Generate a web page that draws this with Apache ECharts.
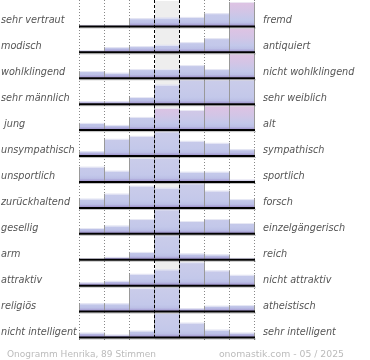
<!DOCTYPE html>
<html>
<head>
<meta charset="utf-8">
<script src="https://cdn.jsdelivr.net/npm/echarts@6/dist/echarts.min.js"></script>
<style>html,body{margin:0;padding:0;background:#fff}#c{width:370px;height:360px}</style>
</head>
<body>
<div id="c"></div>
<script>
const leftLabels = ['sehr vertraut','modisch','wohlklingend','sehr männlich',' jung','unsympathisch','unsportlich','zurückhaltend','gesellig','arm','attraktiv','religiös','nicht intelligent'];
const rightLabels = ['fremd','antiquiert','nicht wohlklingend','sehr weiblich','alt','sympathisch','sportlich','forsch','einzelgängerisch','reich','nicht attraktiv','atheistisch','sehr intelligent'];
// bar heights per row, 7 bins (row height = 26 units, bars capped at 24)
const values = [
  [1, 1, 7.7, 8.3, 9, 12.7, 24],
  [1.7, 4.7, 5.7, 7, 9.7, 13.7, 24],
  [6.7, 5, 8.7, 8.7, 12.7, 8.7, 24],
  [2.3, 2.3, 6.7, 19, 24, 24, 24],
  [6.7, 4.7, 12.7, 21.7, 19.7, 24, 24],
  [4.3, 16.7, 19.7, 24, 14.7, 12.7, 6.3],
  [14.7, 10.7, 23.5, 24, 9.7, 9.7, 1.7],
  [8.7, 13.7, 21.7, 19.7, 24, 16.7, 8.3],
  [5.3, 7.7, 14.3, 24, 12.3, 14.3, 10.3],
  [0.6, 2.3, 7.3, 24, 5.7, 4.7, 1.3],
  [2.7, 4.3, 11.3, 15.7, 23, 14.7, 10.3],
  [7.7, 7.7, 23, 24, 2.7, 5.3, 6],
  [4.3, 2.3, 6.3, 24, 14.3, 7.3, 4.3]
];
// pink tint seen at the top of some bars (0 = none, 1 = strong)
const tint = [
  [0, 0, 0, 0, 0, 0, 1],
  [0, 0, 0, 0, 0, 0, 1],
  [0, 0, 0, 0, 0, 0, 1],
  [0, 0, 0, 0, 0, 0, 0],
  [0, 0, 0, 1, 0.5, 1, 1],
  [0, 0, 0, 0, 0, 0, 0],
  [0, 0, 0, 0, 0, 0, 0],
  [0, 0, 0, 0, 0, 0, 0],
  [0, 0, 0, 0, 0, 0, 0],
  [0, 0, 0, 0, 0, 0, 0],
  [0, 0, 0, 0, 0, 0, 0],
  [0, 0, 0, 0, 0, 0, 0],
  [0, 0, 0, 0, 0, 0, 0]
];
const boundaries = [0, 1, 2, 3, 4, 5, 6, 7];
const footerLeft = 'Onogramm Henrika, 89 Stimmen';
const footerRight = 'onomastik.com - 05 / 2025';

const ROW = 26, NROWS = leftLabels.length, TOTAL = ROW * NROWS;
const baseOf = r => (NROWS - 1 - r) * ROW;

const barData = [];
values.forEach((row, r) => row.forEach((h, c) => barData.push([c, r, h, tint[r][c]])));
const rowData = leftLabels.map((_, i) => [i]);

function mix(a, b, t) {
  const pa = [1,3,5].map(i => parseInt(a.substr(i, 2), 16));
  const pb = [1,3,5].map(i => parseInt(b.substr(i, 2), 16));
  return 'rgb(' + pa.map((v, i) => Math.round(v + (pb[i] - v) * t)).join(',') + ')';
}

const chart = echarts.init(document.getElementById('c'), null, {renderer: 'canvas'});
const FONT = 'italic 9.7px "DejaVu Sans"';
chart.setOption({
  animation: false,
  title: [
    {text: footerLeft, left: 2, top: 345, textStyle: {fontSize: 9, fontWeight: 'normal', color: '#bbbbbb', fontFamily: 'DejaVu Sans'}},
    {text: footerRight, right: 21, top: 345, textStyle: {fontSize: 9.3, fontWeight: 'normal', color: '#bbbbbb', fontFamily: 'DejaVu Sans'}}
  ],
  grid: {left: 80, right: 115, top: -1, bottom: 23},
  xAxis: {type: 'value', min: 0, max: 7, show: false},
  yAxis: {type: 'value', min: 0, max: TOTAL, show: false},
  series: [
    { // middle band background
      type: 'custom', z: 1, data: [[3, 4]],
      renderItem: (p, api) => {
        const a = api.coord([api.value(0), TOTAL]), b = api.coord([api.value(1), 0]);
        return {type: 'rect', shape: {x: a[0], y: a[1] + 1, width: b[0] - a[0], height: b[1] - a[1] + 2}, style: {fill: '#eeeeee'}};
      }
    },
    { // dotted grid lines
      type: 'custom', z: 2, data: boundaries.filter(b => b !== 3 && b !== 4).map(b => [b]),
      renderItem: (p, api) => {
        const b = api.coord([api.value(0), 0]);
        const x = Math.round(b[0]) - 0.5;
        return {type: 'line', shape: {x1: x, y1: 0, x2: x, y2: b[1] + 3}, style: {stroke: '#888', lineWidth: 1, lineDash: [1, 2]}};
      }
    },
    { // bars
      type: 'custom', z: 3, data: barData,
      renderItem: (p, api) => {
        const c = api.value(0), r = api.value(1), h = Math.min(api.value(2), 24.5), t = api.value(3);
        const base = baseOf(r);
        const p0 = api.coord([c, base]), p1 = api.coord([c + 1, base + h]);
        const rowTop = api.coord([0, base + ROW])[1];
        const x0 = Math.round(p0[0]), x1 = Math.round(p1[0]);
        const yb = p0[1], yt = p1[1];
        const grad = new echarts.graphic.LinearGradient(0, rowTop, 0, yb, [
          {offset: 0, color: mix('#cbcdea', '#e2c2e2', t)},
          {offset: 0.45, color: mix('#c7caea', '#d2c5e6', t)},
          {offset: 0.75, color: '#c3c8ea'},
          {offset: 0.88, color: '#bcc0e6'},
          {offset: 1, color: '#9e90cc'}
        ], true);
        return {type: 'group', children: [
          {type: 'rect', shape: {x: x0, y: yt, width: x1 - x0, height: yb - yt}, style: {fill: grad}},
          {type: 'line', shape: {x1: x0, y1: yt + 0.5, x2: x1, y2: yt + 0.5}, style: {stroke: 'rgba(240,240,248,0.8)', lineWidth: 1}},
          {type: 'line', shape: {x1: x0 - 0.5, y1: yt, x2: x0 - 0.5, y2: yb}, style: {stroke: '#999999', lineWidth: 1}},
          {type: 'line', shape: {x1: x1 - 0.5, y1: yt, x2: x1 - 0.5, y2: yb}, style: {stroke: '#999999', lineWidth: 1}}
        ]};
      }
    },
    { // dashed lines around middle column
      type: 'custom', z: 4, data: [[3], [4]],
      renderItem: (p, api) => {
        const b = api.coord([api.value(0), 0]);
        const x = Math.round(b[0]) - 0.5;
        return {type: 'line', shape: {x1: x, y1: 0, x2: x, y2: b[1] + 3}, style: {stroke: '#000', lineWidth: 1, lineDash: [3, 2]}};
      }
    },
    { // baselines and labels
      type: 'custom', z: 5, data: rowData,
      renderItem: (p, api) => {
        const r = api.value(0), base = baseOf(r);
        const a = api.coord([0, base]), b = api.coord([7, base]);
        const y = a[1];
        return {type: 'group', children: [
          {type: 'line', shape: {x1: a[0] - 1, y1: y + 0.5, x2: b[0], y2: y + 0.5}, style: {stroke: '#000', lineWidth: 2}},
          {type: 'line', shape: {x1: a[0] - 1, y1: y + 2, x2: b[0] + 1, y2: y + 2}, style: {stroke: 'rgba(0,0,0,0.25)', lineWidth: 1}},
          {type: 'text', style: {text: leftLabels[r], x: 1, y: y - 5, fill: '#555', font: FONT, align: 'left', verticalAlign: 'middle'}},
          {type: 'text', style: {text: rightLabels[r], x: b[0] + 8, y: y - 5, fill: '#555', font: FONT, align: 'left', verticalAlign: 'middle'}}
        ]};
      }
    }
  ]
});
</script>
</body>
</html>
